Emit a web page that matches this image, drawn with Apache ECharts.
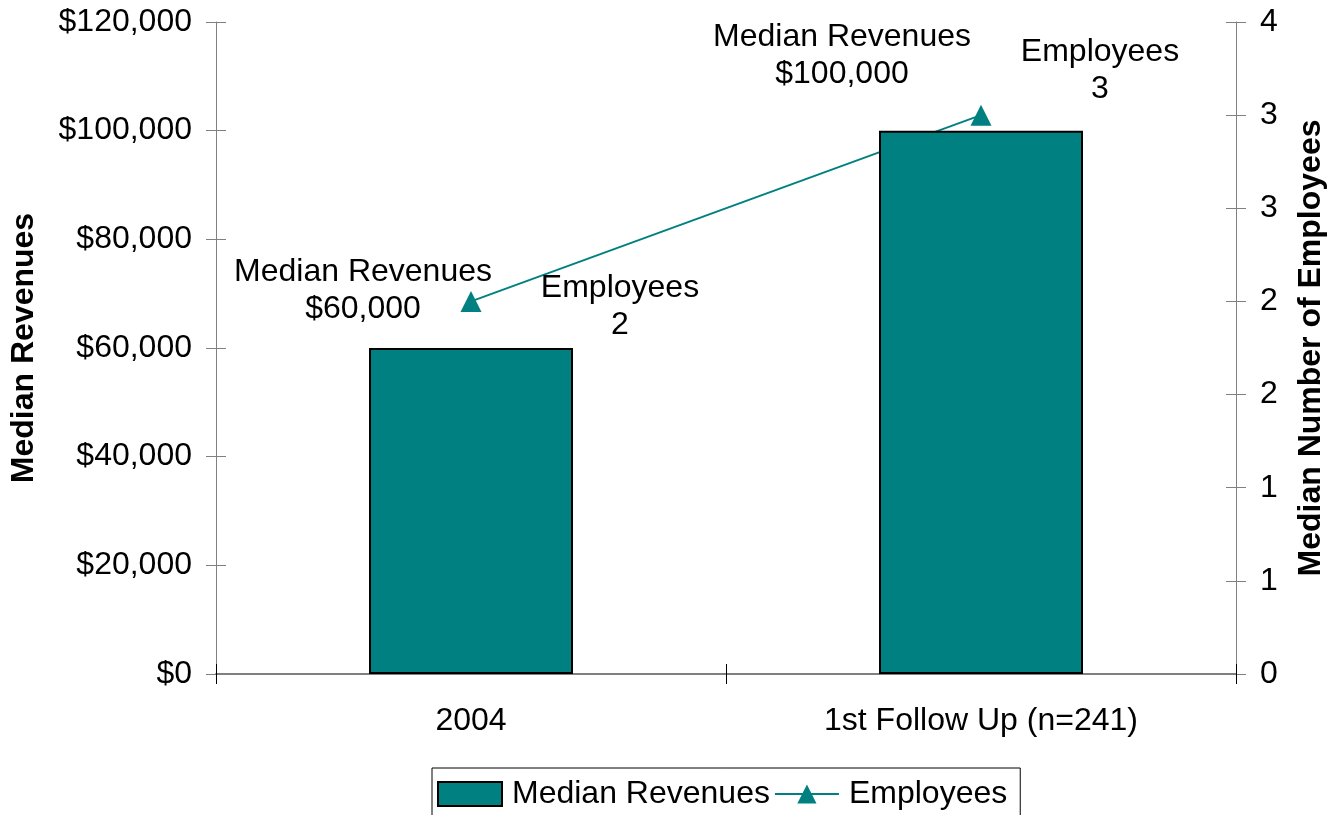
<!DOCTYPE html>
<html>
<head>
<meta charset="utf-8">
<script src="https://cdn.jsdelivr.net/npm/echarts@6/dist/echarts.min.js"></script>
<style>
  html, body { margin: 0; padding: 0; background: #fff; }
  #chart { width: 1340px; height: 815px; }
</style>
</head>
<body>
<div id="chart"></div>
<script>
// data
var categories = ['2004', '1st Follow Up (n=241)'];
var revenues = [60000, 100000];
var employees = [2, 3];

var teal = '#008080';
var font = 'Liberation Sans, Arial, sans-serif';

var money = function (v) {
    return '$' + Number(v).toLocaleString('en-US');
};

// label placement, per point
var revLabel = [
    { distance: 20, offset: [-108, 0] },
    { distance: 38, offset: [-139, 0] }
];
var empLabel = [
    { offset: [149, 5] },
    { offset: [119, -44] }
];

var myChart = echarts.init(document.getElementById('chart'));

var option = {
    animation: false,
    textStyle: { fontFamily: font },
    grid: { left: 216, right: 104, top: 22, bottom: 141 },
    legend: {
        left: 432,
        top: 768,
        padding: [10, 13, 10, 5],
        itemGap: 4,
        itemWidth: 64,
        itemHeight: 24,
        borderColor: '#000',
        borderWidth: 1,
        textStyle: { fontSize: 32, color: '#000', fontFamily: font, padding: [0, 0, 0, 5] },
        data: [
            { name: 'Median Revenues', icon: 'rect', itemStyle: { borderColor: '#000', borderWidth: 2 } },
            { name: 'Employees' }
        ]
    },
    xAxis: [
        {
            type: 'category',
            data: categories,
            axisLine: { show: true, lineStyle: { color: '#808080', width: 2 } },
            axisTick: { show: true, length: 10, lineStyle: { color: '#000' } },
            axisLabel: { fontSize: 32, color: '#000', margin: 31, fontFamily: font }
        },
        // inner halves of the crossing tick marks
        {
            type: 'category',
            position: 'bottom',
            data: categories,
            axisLine: { show: false },
            axisTick: { show: true, inside: true, length: 10, lineStyle: { color: '#000' } },
            axisLabel: { show: false }
        }
    ],
    yAxis: [
        {
            type: 'value',
            position: 'left',
            min: 0, max: 120000, interval: 20000,
            name: 'Median Revenues',
            nameLocation: 'middle',
            nameGap: 176,
            nameTextStyle: { fontSize: 32, fontWeight: 'bold', color: '#000', fontFamily: font },
            axisLine: { show: true, lineStyle: { color: '#808080' } },
            axisTick: { show: true, length: 10, lineStyle: { color: '#808080' } },
            axisLabel: { fontSize: 32, color: '#000', margin: 24, formatter: money, fontFamily: font },
            splitLine: { show: false }
        },
        {
            type: 'value',
            position: 'right',
            min: 0, max: 3.5, interval: 0.5,
            name: 'Median Number of Employees',
            nameLocation: 'middle',
            nameGap: 59,
            nameRotate: 90,
            nameTextStyle: { fontSize: 32, fontWeight: 'bold', color: '#000', fontFamily: font },
            axisLine: { show: true, lineStyle: { color: '#808080' } },
            axisTick: { show: true, length: 10, lineStyle: { color: '#808080' } },
            axisLabel: {
                fontSize: 32, color: '#000', margin: 24, fontFamily: font,
                formatter: function (v) { return Math.round(v); }
            },
            splitLine: { show: false }
        },
        {
            type: 'value',
            position: 'left',
            min: 0, max: 120000, interval: 20000,
            axisLine: { show: false },
            axisTick: { show: true, inside: true, length: 10, lineStyle: { color: '#808080' } },
            axisLabel: { show: false },
            splitLine: { show: false }
        },
        {
            type: 'value',
            position: 'right',
            min: 0, max: 3.5, interval: 0.5,
            axisLine: { show: false },
            axisTick: { show: true, inside: true, length: 10, lineStyle: { color: '#808080' } },
            axisLabel: { show: false },
            splitLine: { show: false }
        }
    ],
    series: [
        {
            name: 'Median Revenues',
            type: 'bar',
            yAxisIndex: 0,
            barWidth: '40%',
            z: 3,
            itemStyle: { color: teal, borderColor: '#000', borderWidth: 2 },
            data: revenues.map(function (v, i) {
                return {
                    value: v,
                    label: {
                        show: true,
                        position: 'top',
                        distance: revLabel[i].distance,
                        offset: revLabel[i].offset,
                        fontSize: 32,
                        lineHeight: 37,
                        color: '#000',
                        fontFamily: font,
                        align: 'center',
                        formatter: 'Median Revenues\n' + money(v)
                    }
                };
            })
        },
        {
            name: 'Employees',
            type: 'line',
            yAxisIndex: 1,
            z: 1,
            symbol: 'triangle',
            symbolSize: 21,
            color: teal,
            lineStyle: { color: teal, width: 2 },
            itemStyle: { color: teal },
            data: employees.map(function (v, i) {
                return {
                    value: v,
                    label: {
                        show: true,
                        position: 'inside',
                        offset: empLabel[i].offset,
                        fontSize: 32,
                        lineHeight: 37,
                        color: '#000',
                        fontFamily: font,
                        align: 'center',
                        formatter: 'Employees\n' + v
                    }
                };
            })
        }
    ]
};

myChart.setOption(option);
</script>
</body>
</html>
